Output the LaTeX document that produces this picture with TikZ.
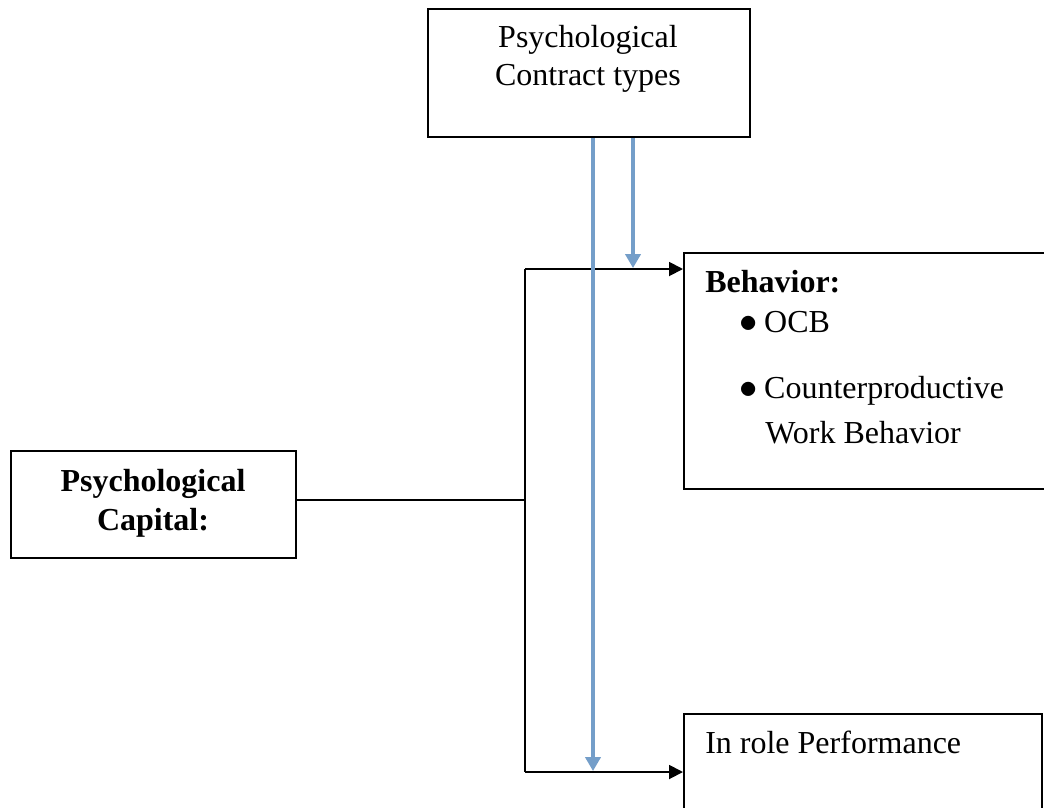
\documentclass[tikz,border=0pt]{standalone}
\usepackage{fontspec}
\setmainfont{Liberation Serif}
\usetikzlibrary{arrows.meta}
\definecolor{linkblue}{RGB}{116,158,201}
\newcommand{\mybul}{\scalebox{1.1}{$\bullet$}\hspace{5pt}}
\tikzset{
  box/.style={draw=black, line width=1.6pt, fill=white, inner sep=0pt, anchor=north west},
  txt/.style={font=\fontsize{24pt}{29pt}\selectfont, inner sep=0pt},
  btxt/.style={txt, font=\fontsize{24pt}{29pt}\selectfont\bfseries},
  conn/.style={draw=black, line width=1.4pt},
  blackarrow/.style={conn, -{Triangle[length=10.5pt, width=10.5pt]}},
  bluearrow/.style={draw=linkblue, line width=2.3pt, -{Triangle[length=10.5pt, width=11.5pt]}}
}
\begin{document}
\begin{tikzpicture}[x=0.75pt, y=-0.75pt]
\useasboundingbox (0,0) rectangle (1044,807);
\clip (0,0) rectangle (1044,807);
% boxes
\node[box, minimum width=241.5pt, minimum height=96pt] (ct) at (427,8) {};
\node[box, minimum width=213.75pt, minimum height=80.25pt] (cap) at (10,450) {};
\node[box, minimum width=285pt, minimum height=177pt] (beh) at (683,252) {};
\node[box, minimum width=268.5pt, minimum height=90pt] (irp) at (683,713) {};
% texts
\node[txt, anchor=base] (ct1) at (588,47) {Psychological};
\node[txt, anchor=base] (ct2) at (588,85) {Contract types};
\node[btxt, anchor=base] (cap1) at (153,491) {Psychological};
\node[btxt, anchor=base] (cap2) at (153,530) {Capital:};
\node[btxt, anchor=base west] (beh1) at (705,292) {Behavior:};
\node[txt, anchor=base west] (beh2) at (739,332) {\mybul OCB};
\node[txt, anchor=base west] (beh3) at (739,398) {\mybul Counterproductive};
\node[txt, anchor=base west] (beh4) at (765,443) {Work Behavior};
\node[txt, anchor=base west] (irp1) at (705,753) {In role Performance};
% connectors
\coordinate (j0) at (525,500);
\coordinate (j1) at (525,269);
\coordinate (j2) at (525,772);
\coordinate (b1) at (593,771);
\coordinate (b2) at (633,268);
\draw[conn] (j0 -| cap.east) -- (j0);
\draw[conn] (j1) -- (j2);
\draw[blackarrow] (j1) -- (j1 -| beh.west);
\draw[blackarrow] (j2) -- (j2 -| irp.west);
\draw[bluearrow] (ct.south -| b1) -- (b1);
\draw[bluearrow] (ct.south -| b2) -- (b2);
\end{tikzpicture}
\end{document}
